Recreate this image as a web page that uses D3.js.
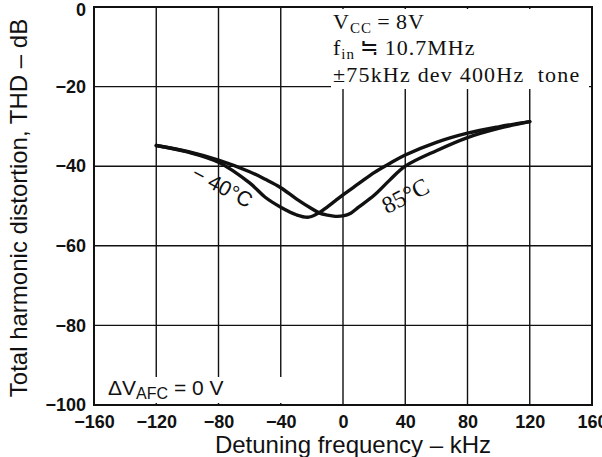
<!DOCTYPE html>
<html>
<head>
<meta charset="utf-8">
<script src="https://cdn.jsdelivr.net/npm/d3@7"></script>
<style>
  html, body { margin: 0; padding: 0; background: #fff; }
  svg { display: block; }
</style>
</head>
<body>
<svg id="chart" width="602" height="457"></svg>
<script>
// ---- data ----
const xTicks = [-160, -120, -80, -40, 0, 40, 80, 120, 160];
const yTicks = [0, -20, -40, -60, -80, -100];
const xGrid = [-120, -80, -40, 0, 40, 80, 120];
const yGrid = [-20, -40, -60, -80];

const coldX = [-120, -100, -80, -60, -50, -40, -30, -22, -15, -10, -5, 0, 10, 20, 30, 40, 60, 80, 100, 120];
const coldY = [-34.8, -36.4, -39.0, -44.2, -47.8, -50.3, -52.2, -52.8, -51.6, -50.2, -48.7, -47.2, -44.4, -41.6, -39.3, -37.2, -34.0, -31.7, -30.1, -28.8];

const hotX = [-120, -100, -80, -60, -50, -40, -30, -20, -15, -10, -5, 0, 5, 10, 20, 30, 40, 60, 80, 100, 120];
const hotY = [-34.8, -36.3, -38.5, -41.4, -43.3, -45.4, -48.2, -50.7, -51.8, -52.3, -52.6, -52.5, -51.8, -50.3, -47.3, -43.5, -40.0, -36.1, -32.8, -30.5, -28.8];

const seriesLabels = ["\u2212 40\u00B0C", "85\u00B0C"];

// ---- layout ----
const svg = d3.select("#chart");
const x = d3.scaleLinear().domain([-160, 160]).range([94, 592]);
const y = d3.scaleLinear().domain([-100, 0]).range([405, 7]);
const ink = "#111";
const fmt = d => (d < 0 ? "\u2212" + Math.abs(d) : String(d));

// gridlines
svg.append("g").selectAll("line").data(xGrid).join("line")
  .attr("x1", d => x(d)).attr("x2", d => x(d))
  .attr("y1", y(0)).attr("y2", y(-100))
  .attr("stroke", ink).attr("stroke-width", 1.4);
svg.append("g").selectAll("line").data(yGrid).join("line")
  .attr("x1", x(-160)).attr("x2", x(160))
  .attr("y1", d => y(d)).attr("y2", d => y(d))
  .attr("stroke", ink).attr("stroke-width", 1.4);

// white boxes behind annotations
svg.append("rect").attr("x", 331).attr("y", 9).attr("width", 258).attr("height", 80).attr("fill", "#fff");
svg.append("rect").attr("x", 97).attr("y", 377).attr("width", 203).attr("height", 26).attr("fill", "#fff");

// frame
svg.append("rect")
  .attr("x", x(-160)).attr("y", y(0))
  .attr("width", x(160) - x(-160)).attr("height", y(-100) - y(0))
  .attr("fill", "none").attr("stroke", ink).attr("stroke-width", 2);

// axes (labels only)
const yAxis = d3.axisLeft(y).tickValues(yTicks).tickSize(0).tickPadding(0).tickFormat(fmt);
const gy = svg.append("g").attr("transform", "translate(86,0)").call(yAxis);
gy.select(".domain").remove();
gy.selectAll("text").attr("font-family", "Liberation Sans, Arial, sans-serif")
  .attr("font-weight", "bold").attr("font-size", 18).attr("fill", ink);
gy.selectAll(".tick").filter(d => d === 0).select("text").attr("dy", "0.45em");

const xAxis = d3.axisBottom(x).tickValues(xTicks).tickSize(0).tickPadding(0).tickFormat(fmt);
const gx = svg.append("g").attr("transform", "translate(0,415)").call(xAxis);
gx.select(".domain").remove();
gx.selectAll("text").attr("font-family", "Liberation Sans, Arial, sans-serif")
  .attr("font-weight", "bold").attr("font-size", 18).attr("fill", ink);

// curves
const line = d3.line().x(d => x(d[0])).y(d => y(d[1])).curve(d3.curveCatmullRom.alpha(0.5));
const cold = coldX.map((v, i) => [v, coldY[i]]);
const hot = hotX.map((v, i) => [v, hotY[i]]);
[cold, hot].forEach(s => {
  svg.append("path").datum(s).attr("d", line)
    .attr("fill", "none").attr("stroke", ink).attr("stroke-width", 3.4)
    .attr("stroke-linecap", "round").attr("stroke-linejoin", "round");
});

// series labels
svg.append("text").attr("transform", `translate(219,193) rotate(28)`)
  .attr("text-anchor", "middle")
  .attr("font-family", "Liberation Sans, Arial, sans-serif").attr("font-size", 21).attr("fill", ink)
  .text(seriesLabels[0]);
svg.append("text").attr("transform", `translate(409,203) rotate(-27)`)
  .attr("text-anchor", "middle")
  .attr("font-family", "Liberation Serif, Times New Roman, serif").attr("font-size", 24).attr("fill", ink)
  .text(seriesLabels[1]);

// condition annotation (top right)
const serif = "Liberation Serif, Times New Roman, serif";
const t1 = svg.append("text").attr("x", 333).attr("y", 29).attr("font-family", serif).attr("font-size", 22)
  .attr("letter-spacing", 1).attr("fill", ink);
t1.append("tspan").text("V");
t1.append("tspan").attr("font-size", 15).attr("dy", 4).text("CC");
t1.append("tspan").attr("dy", -4).text("\u2009=\u20098V");

const t2 = svg.append("text").attr("x", 333).attr("y", 55).attr("font-family", serif).attr("font-size", 22)
  .attr("letter-spacing", 1).attr("fill", ink);
t2.append("tspan").text("f");
t2.append("tspan").attr("font-size", 15).attr("dy", 4).text("in");
t2.append("tspan").attr("dy", -4).text("\u2009\u2252\u200910.7MHz");

svg.append("text").attr("x", 333).attr("y", 82).attr("font-family", serif).attr("font-size", 22)
  .attr("letter-spacing", 1.2).attr("fill", ink)
  .attr("xml:space", "preserve").style("white-space", "pre")
  .text("\u00B175kHz dev 400Hz  tone");

// ΔV_AFC annotation
const sans = "Liberation Sans, Arial, sans-serif";
const t3 = svg.append("text").attr("x", 108).attr("y", 395).attr("font-family", sans).attr("font-size", 21).attr("fill", ink);
t3.append("tspan").text("\u0394V");
t3.append("tspan").attr("font-size", 16).attr("dy", 4).text("AFC");
t3.append("tspan").attr("dy", -4).text(" = 0 V");

// axis titles
svg.append("text").attr("x", 353).attr("y", 453).attr("text-anchor", "middle")
  .attr("font-family", sans).attr("font-size", 24).attr("fill", ink)
  .text("Detuning frequency \u2013 kHz");
svg.append("text").attr("transform", "translate(27,208) rotate(-90)").attr("text-anchor", "middle")
  .attr("font-family", sans).attr("font-size", 24).attr("fill", ink)
  .text("Total harmonic distortion, THD \u2013 dB");
</script>
</body>
</html>
